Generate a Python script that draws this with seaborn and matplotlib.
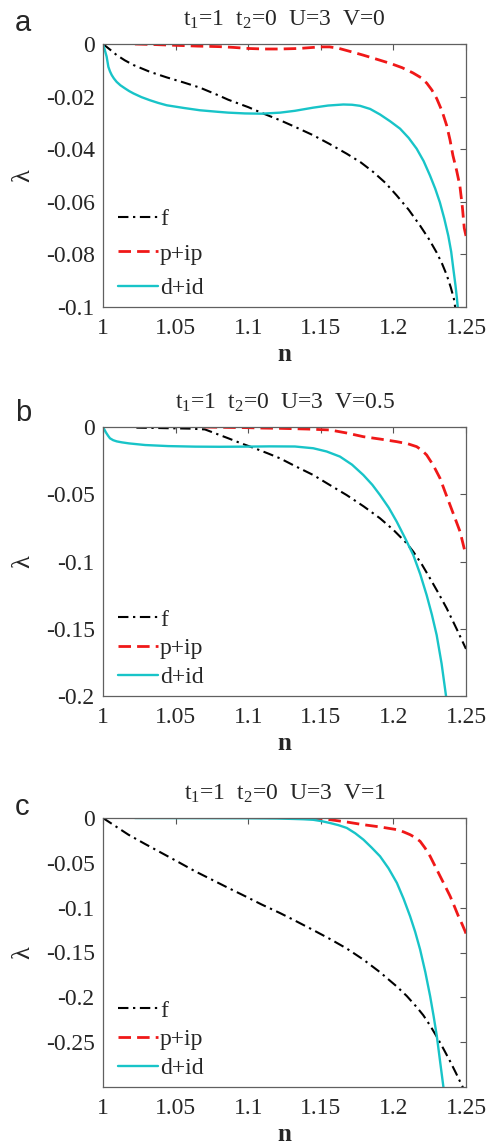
import numpy as np
import pandas as pd
import matplotlib
matplotlib.use("Agg")
import matplotlib.pyplot as plt
import seaborn as sns

# ---- panel a : t1=1 t2=0 U=3 V=0 ----
a_f_n = [1.0, 1.005, 1.0094, 1.015, 1.021, 1.0324, 1.0439, 1.0554, 1.0668, 1.0794,
         1.0863, 1.1, 1.1093, 1.122, 1.1322, 1.1448, 1.156, 1.1678, 1.1775, 1.1862,
         1.1945, 1.2023, 1.2105, 1.2183, 1.2245, 1.2298, 1.2335, 1.2367, 1.2395, 1.2417,
         1.2428]
a_f_l = [0.0, -0.0022, -0.0042, -0.0062, -0.0080, -0.0106, -0.0127, -0.0146, -0.0166, -0.0195,
         -0.0212, -0.0240, -0.0262, -0.0290, -0.0315, -0.0347, -0.0380, -0.0417, -0.0450, -0.0487,
         -0.0528, -0.0576, -0.0630, -0.0690, -0.0742, -0.0793, -0.0835, -0.0878, -0.0925, -0.0970,
         -0.1010]
a_p_n = [1.022, 1.035, 1.05, 1.065, 1.08, 1.09, 1.1, 1.111, 1.122, 1.135,
         1.1495, 1.156, 1.162, 1.17, 1.179, 1.188, 1.198, 1.206, 1.2135, 1.219,
         1.223, 1.2265, 1.2298, 1.2335, 1.2367, 1.239, 1.241, 1.2435, 1.2458, 1.2475,
         1.2488, 1.25]
a_p_l = [0.0, -0.0002, -0.0005, -0.0008, -0.0010, -0.0013, -0.0017, -0.0019, -0.0019, -0.0017,
         -0.0011, -0.0011, -0.0016, -0.0028, -0.0042, -0.0057, -0.0074, -0.0090, -0.0110, -0.0128,
         -0.0149, -0.0175, -0.0207, -0.0255, -0.0310, -0.0365, -0.0424, -0.0480, -0.0540, -0.0620,
         -0.0700, -0.0730]
a_d_n = [1.0, 1.0012, 1.0025, 1.0037, 1.0048, 1.006, 1.0075, 1.0094, 1.012, 1.0152,
         1.018, 1.021, 1.0265, 1.0324, 1.038, 1.0439, 1.0554, 1.0668, 1.0794, 1.0863,
         1.0978, 1.1093, 1.122, 1.1322, 1.1448, 1.155, 1.1655, 1.1715, 1.177, 1.184,
         1.1908, 1.1978, 1.2046, 1.2105, 1.216, 1.2208, 1.2252, 1.2288, 1.232, 1.235,
         1.2378, 1.2398, 1.2413, 1.2428, 1.2437, 1.2445]
a_d_l = [0.0, -0.0022, -0.0048, -0.0087, -0.0104, -0.0118, -0.0131, -0.0144, -0.0157, -0.0169,
         -0.0179, -0.0188, -0.0202, -0.0214, -0.0224, -0.0233, -0.0243, -0.0252, -0.0258, -0.0261,
         -0.0264, -0.0265, -0.0261, -0.0254, -0.0242, -0.0234, -0.0230, -0.0231, -0.0235, -0.0247,
         -0.0268, -0.0294, -0.0322, -0.0357, -0.0398, -0.0445, -0.0500, -0.0550, -0.0602, -0.0663,
         -0.0729, -0.0790, -0.0856, -0.0920, -0.0965, -0.1010]

# ---- panel b : t1=1 t2=0 U=3 V=0.5 ----
b_f_n = [1.023, 1.035, 1.05, 1.06, 1.0702, 1.078, 1.0863, 1.095, 1.1047, 1.1135,
         1.1219, 1.1322, 1.1448, 1.156, 1.1678, 1.1795, 1.1908, 1.2, 1.2092, 1.2137,
         1.2195, 1.2252, 1.231, 1.2367, 1.2435, 1.25]
b_f_l = [-0.0005, -0.0007, -0.0010, -0.0012, -0.0018, -0.0050, -0.0084, -0.0121, -0.0159, -0.0196,
         -0.0233, -0.0290, -0.0357, -0.0430, -0.0506, -0.0590, -0.0679, -0.0765, -0.0865, -0.0927,
         -0.1020, -0.1125, -0.1235, -0.1348, -0.1500, -0.1650]
b_p_n = [1.07, 1.085, 1.1, 1.11, 1.122, 1.14, 1.1563, 1.168, 1.1793, 1.191,
         1.2023, 1.21, 1.216, 1.2195, 1.2229, 1.2275, 1.2321, 1.2355, 1.239, 1.2425,
         1.2459, 1.2493, 1.25]
b_p_l = [0.0, -0.0003, -0.0005, -0.0008, -0.0010, -0.0015, -0.0022, -0.0045, -0.0072, -0.0090,
         -0.0109, -0.0125, -0.0146, -0.0172, -0.0208, -0.0285, -0.0381, -0.0480, -0.0580, -0.0680,
         -0.0778, -0.0927, -0.0950]
b_d_n = [1.0, 1.001, 1.002, 1.0035, 1.0048, 1.007, 1.0095, 1.0129, 1.018, 1.029,
         1.045, 1.0634, 1.08, 1.0978, 1.115, 1.1322, 1.1448, 1.154, 1.1632, 1.1715,
         1.1793, 1.1855, 1.1908, 1.1968, 1.2023, 1.208, 1.2137, 1.2185, 1.2229, 1.2265,
         1.2298, 1.2332, 1.2365]
b_d_l = [0.0, -0.0020, -0.0040, -0.0065, -0.0084, -0.0098, -0.0107, -0.0114, -0.0122, -0.0134,
         -0.0142, -0.0146, -0.0147, -0.0146, -0.0144, -0.0145, -0.0158, -0.0182, -0.0220, -0.0280,
         -0.0357, -0.0430, -0.0506, -0.0600, -0.0704, -0.0825, -0.0952, -0.1095, -0.1250, -0.1395,
         -0.1547, -0.1760, -0.2020]

# ---- panel c : t1=1 t2=0 U=3 V=1 ----
c_f_n = [1.0, 1.0094, 1.0175, 1.029, 1.0404, 1.052, 1.0634, 1.075, 1.0863, 1.098,
         1.1093, 1.1219, 1.1322, 1.1448, 1.1564, 1.1678, 1.1794, 1.1908, 1.2024, 1.2092,
         1.2161, 1.2206, 1.2255, 1.2299, 1.2345, 1.2391, 1.2431, 1.2471, 1.249]
c_f_l = [0.0, -0.0100, -0.0186, -0.0290, -0.0390, -0.0492, -0.0594, -0.0688, -0.0780, -0.0873,
         -0.0965, -0.1060, -0.1144, -0.1250, -0.1350, -0.1455, -0.1580, -0.1720, -0.1880, -0.1985,
         -0.2110, -0.2200, -0.2320, -0.2440, -0.2575, -0.2715, -0.2845, -0.2980, -0.3040]
c_p_n = [1.1425, 1.15, 1.1564, 1.168, 1.1794, 1.191, 1.2024, 1.207, 1.2115, 1.215,
         1.2184, 1.2218, 1.2253, 1.2288, 1.2322, 1.2357, 1.2391, 1.242, 1.2448, 1.2472,
         1.2494, 1.25]
c_p_l = [0.0, -0.0010, -0.0019, -0.0045, -0.0075, -0.0100, -0.0130, -0.0155, -0.0186, -0.0218,
         -0.0260, -0.0335, -0.0427, -0.0540, -0.0650, -0.0762, -0.0873, -0.0985, -0.1096, -0.1180,
         -0.1263, -0.1290]
c_d_n = [1.022, 1.06, 1.1, 1.12, 1.13, 1.138, 1.1448, 1.1505, 1.1564, 1.1622,
         1.1679, 1.1737, 1.1794, 1.185, 1.1908, 1.1966, 1.2024, 1.207, 1.2115, 1.215,
         1.2184, 1.222, 1.2253, 1.2277, 1.2299, 1.2322, 1.2345, 1.2352]
c_d_l = [0.0, -0.0001, -0.0003, -0.0006, -0.0010, -0.0014, -0.0020, -0.0035, -0.0056, -0.0080,
         -0.0111, -0.0170, -0.0242, -0.0330, -0.0427, -0.0560, -0.0724, -0.0900, -0.1096, -0.1270,
         -0.1467, -0.1720, -0.1987, -0.2210, -0.2432, -0.2720, -0.3007, -0.3100]

titles = [r"$\mathregular{t_1}$=1  $\mathregular{t_2}$=0  U=3  V=0",
          r"$\mathregular{t_1}$=1  $\mathregular{t_2}$=0  U=3  V=0.5",
          r"$\mathregular{t_1}$=1  $\mathregular{t_2}$=0  U=3  V=1"]
letters = ["a", "b", "c"]
x_ticks = [1.0, 1.05, 1.1, 1.15, 1.2, 1.25]
x_labels = ["1", "1.05", "1.1", "1.15", "1.2", "1.25"]
y_ticks = [[0, -0.02, -0.04, -0.06, -0.08, -0.1],
           [0, -0.05, -0.1, -0.15, -0.2],
           [0, -0.05, -0.1, -0.15, -0.2, -0.25]]
y_labels = [["0", "-0.02", "-0.04", "-0.06", "-0.08", "-0.1"],
            ["0", "-0.05", "-0.1", "-0.15", "-0.2"],
            ["0", "-0.05", "-0.1", "-0.15", "-0.2", "-0.25"]]
y_bottom = [-0.1, -0.2, -0.3]

series = [
    [(a_f_n, a_f_l), (a_p_n, a_p_l), (a_d_n, a_d_l)],
    [(b_f_n, b_f_l), (b_p_n, b_p_l), (b_d_n, b_d_l)],
    [(c_f_n, c_f_l), (c_p_n, c_p_l), (c_d_n, c_d_l)],
]
names = ["f", "p+ip", "d+id"]
styles = [dict(color="black", linestyle=(0, (5, 2.2, 1.1, 2.2)), linewidth=1.5),
          dict(color="#f01818", linestyle=(0, (4.5, 2.2)), linewidth=2.0),
          dict(color="#18c4c8", linestyle="-", linewidth=1.7)]

sns.set_style("white")
plt.rcParams["font.family"] = ["Liberation Serif", "DejaVu Serif"]
plt.rcParams["mathtext.fontset"] = "custom"
plt.rcParams["mathtext.rm"] = "Liberation Serif"
plt.rcParams["mathtext.it"] = "Liberation Serif:italic"

W, H = 489, 1146
fig = plt.figure(figsize=(W / 100, H / 100), dpi=100)

# axes boxes in pixels: (left, top, right, bottom)
boxes = [(103, 44, 466, 307), (103, 427, 466, 696), (103, 818, 466, 1087)]
letter_pos = [(15, 31), (15, 421), (15, 815)]
legend_spacing = [0.55, 0.3, 0.3]

for i in range(3):
    l, t, r, b = boxes[i]
    ax = fig.add_axes([l / W, 1 - b / H, (r - l) / W, (b - t) / H])
    for (xs, ys), name, st in zip(series[i], names, styles):
        df = pd.DataFrame({"n": xs, "lam": ys})
        sns.lineplot(data=df, x="n", y="lam", ax=ax, sort=False, estimator=None,
                     label=name, **st)
    ax.set_xlim(1.0, 1.25)
    ax.set_ylim(y_bottom[i], 0)
    ax.set_xticks(x_ticks)
    ax.set_xticklabels(x_labels, fontsize=17)
    ax.set_yticks(y_ticks[i])
    ax.set_yticklabels(y_labels[i], fontsize=17)
    ax.tick_params(direction="in", top=True, right=True, length=4, width=0.8,
                   color="#555555")
    ax.tick_params(axis="x", pad=8)
    ax.tick_params(axis="y", pad=6)
    for s in ax.spines.values():
        s.set_color("#606060")
        s.set_linewidth(0.9)
    ax.set_xlabel("n", fontsize=18, fontweight="bold", labelpad=3)
    ax.set_ylabel("λ", fontsize=19)
    ax.yaxis.set_label_coords(-0.19, 0.5)
    ax.set_title(titles[i], fontsize=17, pad=13)
    ax.legend(loc="lower left", bbox_to_anchor=(0.04, 0.03), frameon=False,
              fontsize=17, handlelength=1.7, handletextpad=0.1,
              labelspacing=legend_spacing[i], borderpad=0, borderaxespad=0)
    fig.text(letter_pos[i][0] / W, 1 - letter_pos[i][1] / H, letters[i],
             family="Liberation Sans", fontsize=21, va="baseline", ha="left")

fig.savefig("out.png", dpi=100)
